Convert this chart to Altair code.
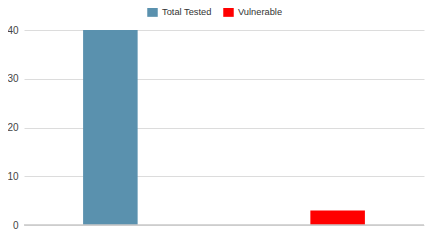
import altair as alt
import pandas as pd

categories = ["Total Tested", "Vulnerable"]
values = [40, 3]
colors = ["#5a91ae", "#ff0000"]

df = pd.DataFrame({"cat": categories, "val": values})

x = alt.X("cat:N", axis=None,
          scale=alt.Scale(domain=categories, paddingInner=0.76, paddingOuter=0.26, align=0.5))
y = alt.Y("val:Q", title=None,
          scale=alt.Scale(domain=[0, 40]),
          axis=alt.Axis(values=[0, 10, 20, 30, 40], grid=True, gridColor="#dcdcdc",
                        domain=False, ticks=False, labelPadding=6,
                        labelColor="#444", labelFontSize=10, labelFont="Liberation Sans"))

bars = alt.Chart(df).mark_bar().encode(
    x=x, y=y,
    color=alt.Color("cat:N", scale=alt.Scale(domain=categories, range=colors),
                    legend=alt.Legend(title=None, orient="none", direction="horizontal",
                                      legendX=123, legendY=-24, symbolType="square",
                                      symbolSize=110, symbolStrokeWidth=0,
                                      labelFont="Liberation Sans", labelFontSize=9.3,
                                      labelColor="#333", columnPadding=11))
)

base = alt.Chart(pd.DataFrame({"v": [0]})).mark_rule(color="#c8c8c8", strokeWidth=1.5).encode(
    y=alt.Y("v:Q", scale=alt.Scale(domain=[0, 40]))
)

chart = alt.layer(bars, base).properties(
    width=400, height=195,
    autosize=alt.AutoSizeParams(type="none"),
    padding={"left": 16, "top": 22, "right": 2, "bottom": 8},
).configure_view(stroke=None)

chart.save("out.html", embed_options={"renderer": "svg", "actions": False})
